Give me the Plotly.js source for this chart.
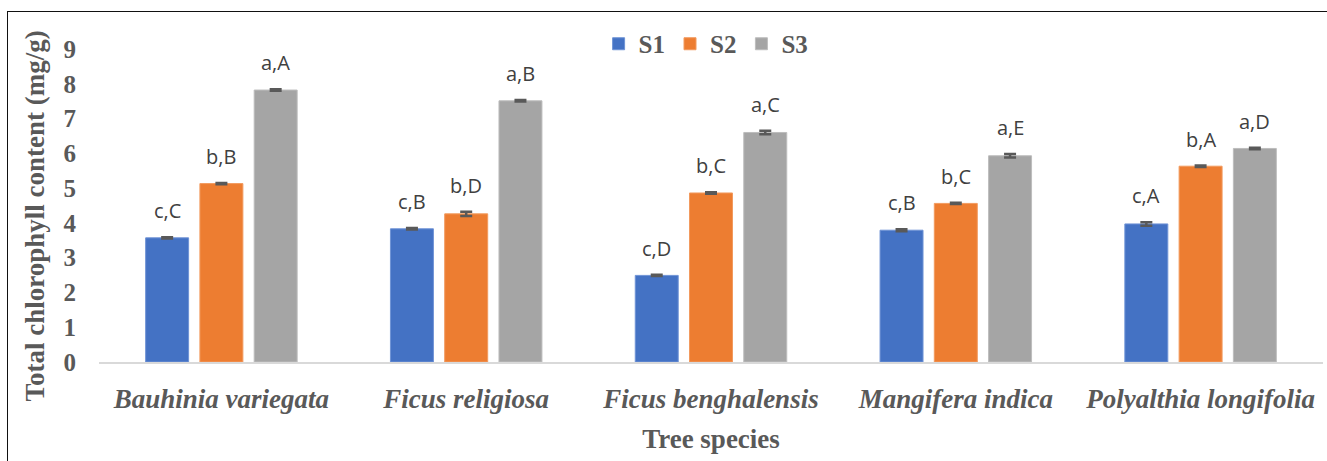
<!DOCTYPE html>
<html>
<head>
<meta charset="utf-8">
<script src="https://cdn.plot.ly/plotly-3.0.1.min.js"></script>
<style>
  html, body { margin: 0; padding: 0; background: #fff; }
  #wrap { position: relative; width: 1327px; height: 461px; overflow: hidden; }
  #chart { width: 1327px; height: 461px; }
  #frame { position: absolute; left: 7px; top: 11px; width: 1400px; height: 500px;
           border-left: 1px solid #111; border-top: 1px solid #111; pointer-events: none; }
</style>
</head>
<body>
<div id="wrap">
  <div id="chart"></div>
  <div id="frame"></div>
</div>
<script>
const species = ["Bauhinia variegata", "Ficus religiosa", "Ficus benghalensis", "Mangifera indica", "Polyalthia longifolia"];
const s1 = [3.57, 3.83, 2.49, 3.79, 3.97];
const s2 = [5.13, 4.26, 4.86, 4.56, 5.63];
const s3 = [7.82, 7.51, 6.60, 5.93, 6.14];
const s1err = [0.02, 0.02, 0.02, 0.03, 0.05];
const s2err = [0.02, 0.06, 0.02, 0.02, 0.02];
const s3err = [0.02, 0.02, 0.05, 0.05, 0.02];
const s1lab = ["c,C", "c,B", "c,D", "c,B", "c,A"];
const s2lab = ["b,B", "b,D", "b,C", "b,C", "b,A"];
const s3lab = ["a,A", "a,B", "a,C", "a,E", "a,D"];
const seriesNames = ["S1", "S2", "S3"];
const yTitle = "Total chlorophyll content (mg/g)";
const xTitle = "Tree species";
const colors = ["#4472C4", "#ED7D31", "#A5A5A5"];
const outlines = ["#6f93d6", "#f29a5e", "#bdbdbd"];

const vals = [s1, s2, s3];
const errs = [s1err, s2err, s3err];
const labs = [s1lab, s2lab, s3lab];

const serif = "Liberation Serif, Times New Roman, serif";

const traces = vals.map((v, i) => ({
  type: "bar",
  name: seriesNames[i],
  x: species,
  y: v,
  marker: { color: colors[i], line: { color: outlines[i], width: 1 } },
  error_y: { type: "data", array: errs[i], visible: true, color: "#595959", thickness: 2.5, width: 6 },
  hoverinfo: "x+y"
}));

const slot = 54.3;
const annotations = [];
labs.forEach((arr, i) => {
  arr.forEach((t, j) => {
    annotations.push({
      x: species[j], y: vals[i][j] + errs[i][j],
      xref: "x", yref: "y",
      text: t, showarrow: false,
      xshift: (i - 1) * slot, yshift: 11,
      yanchor: "bottom",
      font: { family: "Open Sans, Liberation Sans, sans-serif", size: 20, color: "#404040" }
    });
  });
});
annotations.push({
  x: 0, y: 0.5, xref: "paper", yref: "paper",
  xshift: -65, yshift: -11,
  text: yTitle, textangle: -90, showarrow: false,
  xanchor: "center", yanchor: "middle",
  font: { family: serif, size: 27, color: "#595959", weight: "bold" }
});

const layout = {
  width: 1327, height: 461,
  margin: { l: 99, r: 4, t: 49, b: 99 },
  paper_bgcolor: "#ffffff",
  plot_bgcolor: "#ffffff",
  barmode: "group",
  bargap: 0.335,
  bargroupgap: 0.208,
  showlegend: true,
  legend: {
    orientation: "h", x: 0.496, xanchor: "center", y: 1.016, yanchor: "middle",
    font: { family: serif, size: 25, color: "#595959", weight: "bold" },
    itemwidth: 30, traceorder: "normal"
  },
  xaxis: {
    type: "category",
    showline: true, linecolor: "#d9d9d9", linewidth: 2,
    ticks: "", showgrid: false, zeroline: false,
    tickfont: { family: serif, size: 27, color: "#595959", weight: "bold", style: "italic" },
    ticklabelstandoff: 12,
    title: { text: xTitle, font: { family: serif, size: 27, color: "#595959", weight: "bold" }, standoff: 16 }
  },
  yaxis: {
    range: [0, 9], dtick: 1,
    showline: false, showgrid: false, zeroline: false, ticks: "",
    tickfont: { family: serif, size: 25, color: "#595959", weight: "bold" },
    ticklabelstandoff: 22
  },
  annotations: annotations
};

Plotly.newPlot("chart", traces, layout, { displayModeBar: false, staticPlot: true });
</script>
</body>
</html>
